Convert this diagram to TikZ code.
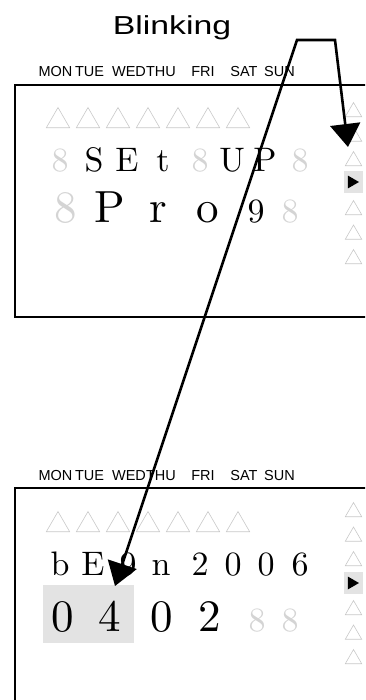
\documentclass[tikz,border=0pt]{standalone}
\usepackage{fontspec}
\newfontfamily\panelfont{Liberation Sans}
\newfontfamily\lcdfont{lmroman10-regular}[Extension=.otf]
\usetikzlibrary{arrows.meta, shapes.geometric}
\definecolor{ghostgray}{HTML}{D4D4D4}
\definecolor{markgray}{HTML}{C8C8C8}
\definecolor{cursorgray}{HTML}{E3E3E3}

\begin{document}
\begin{tikzpicture}[
    x=1pt, y=-1pt,
    panel/.style={line width=1.4pt},
    dayname/.style={font=\panelfont\fontsize{14.5}{16}\selectfont,
                    anchor=base, inner sep=0pt},
    lcd/.style={anchor=base, inner sep=0pt,
                font=\lcdfont\fontsize{34}{34}\selectfont},
    lcdbig/.style={lcd, font=\lcdfont\fontsize{45}{45}\selectfont},
    off/.style={lcd, text=ghostgray},
    offbig/.style={lcdbig, text=ghostgray},
    daymark/.style={regular polygon, regular polygon sides=3, draw=markgray,
                    line width=0.6pt, minimum size=27pt, inner sep=0pt},
    sidemark/.style={daymark, minimum size=19pt},
    cursor/.style={fill=cursorgray, minimum width=19pt, minimum height=22pt,
                   inner sep=0pt},
    pointer/.style={regular polygon, regular polygon sides=3,
                    shape border rotate=-90, fill=black, minimum size=15pt,
                    inner sep=0pt},
    editfield/.style={fill=cursorgray, minimum width=91pt, minimum height=58pt,
                      inner sep=0pt},
    blink/.style={line width=2.6pt,
                  {Triangle[length=23pt, width=30pt]}-{Triangle[length=23pt, width=30pt]}}
  ]
  \useasboundingbox (0,0) rectangle (365,700);
  \clip (0,0) rectangle (365,700);

  \node[font=\panelfont\fontsize{26}{26}\selectfont, anchor=base, inner sep=0pt]
    (blinking) at (172,35) {\scalebox{1.3}[1]{Blinking}};

  % day names above both panels
  \foreach \x/\d in {55.5/MON, 89.5/TUE, 129/WED, 161/THU, 203/FRI, 244/SAT, 279.5/SUN} {
    \node[dayname] (dayA-\d) at (\x,77) {\d};
    \node[dayname] (dayB-\d) at (\x,480) {\d};
  }

  \draw[panel] (15,85) rectangle (400,317);
  \draw[panel] (15,488) rectangle (400,760);

  % week and side marks
  \foreach \x [count=\i] in {58,88,...,238} {
    \node[daymark] (markA\i) at (\x,121) {};
    \node[daymark] (markB\i) at (\x,525) {};
  }
  \foreach \y [count=\i] in {112,136.5,161,210,234.5,259} {
    \node[sidemark] (sideA\i) at (353.5,\y) {};
    \node[sidemark] (sideB\i) at (353.5,\y+400) {};
  }
  \node[cursor] (curA) at (353.5,182) {};
  \node[pointer] (ptrA) at ([xshift=-2pt]curA.center) {};
  \node[cursor] (curB) at (353.5,583) {};
  \node[pointer] (ptrB) at ([xshift=-2pt]curB.center) {};

  \node[editfield] (field) at (88.5,614) {};

  % upper panel
  \foreach \x/\c/\s [count=\i] in {60/8/off, 94/S/lcd, 127/E/lcd, 163/t/lcd,
      200/8/off, 232/U/lcd, 265/P/lcd, 300/8/off}
    \node[\s] (setup\i) at (\x,172) {\c};
  \foreach \x/\c/\s [count=\i] in {66/8/offbig, 110/P/lcdbig, 158/r/lcdbig,
      208/o/lcdbig, 256/9/lcd, 290/8/off}
    \node[\s] (prog\i) at (\x,223) {\c};

  % lower panel
  \foreach \x/\c/\s [count=\i] in {60/b/lcd, 93/E/lcd, 128/9/lcd, 161/n/lcd,
      200/2/lcd, 233/0/lcd, 266/0/lcd, 300/6/lcd}
    \node[\s] (begin\i) at (\x,575) {\c};
  \foreach \x/\c/\s [count=\i] in {63/0/lcdbig, 110/4/lcdbig, 162/0/lcdbig,
      210/2/lcdbig, 257/8/off, 290/8/off}
    \node[\s] (date\i) at (\x,631) {\c};

  \coordinate (blinkL) at (297,40);
  \coordinate (blinkR) at (335,40);
  \coordinate (tipA) at (348,147);
  \coordinate (tipB) at (115,586);
  \draw[blink] (tipB) -- (blinkL) -- (blinkR) -- (tipA);
\end{tikzpicture}
\end{document}
